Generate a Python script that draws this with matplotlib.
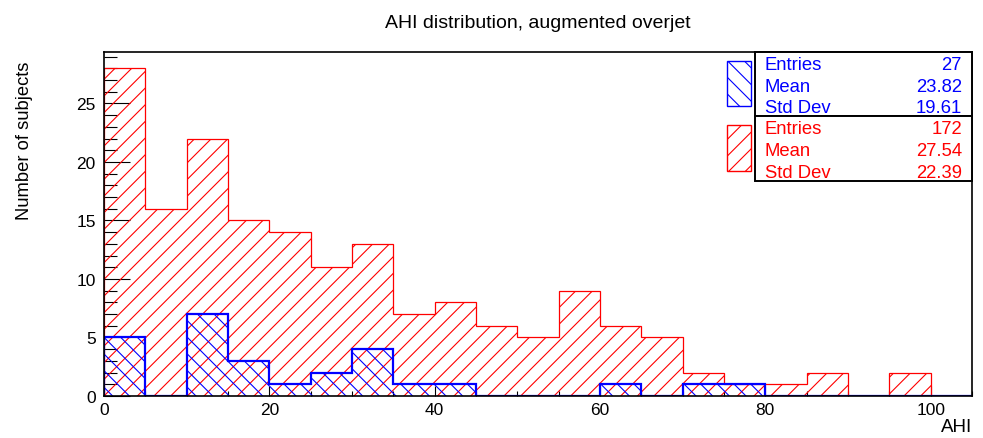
import numpy as np
import matplotlib
matplotlib.use("Agg")
import matplotlib.pyplot as plt
from matplotlib.patches import Rectangle
from matplotlib.ticker import MultipleLocator

plt.rcParams['font.family'] = ['Liberation Sans', 'DejaVu Sans']
plt.rcParams['hatch.linewidth'] = 0.8

# AHI histogram, 5-unit bins from 0 to 105
bin_edges = np.arange(0, 110, 5)
counts_all = [28, 16, 22, 15, 14, 11, 13, 7, 8, 6, 5, 9, 6, 5, 2, 1, 1, 2, 0, 2, 0]
counts_overjet = [5, 0, 7, 3, 1, 2, 4, 1, 1, 0, 0, 0, 1, 0, 1, 1, 0, 0, 0, 0, 0]

stats_overjet = [("Entries", "27"), ("Mean", "23.82"), ("Std Dev", "19.61")]
stats_all = [("Entries", "172"), ("Mean", "27.54"), ("Std Dev", "22.39")]

title = "AHI distribution, augmented overjet"
xlabel = "AHI"
ylabel = "Number of subjects"

W, H = 983, 439
fig = plt.figure(figsize=(W / 100, H / 100), dpi=100)

L, R, T, B = 104, 972, 53, 397
ax = fig.add_axes([L / W, 1 - B / H, (R - L) / W, (B - T) / H])

red = "#ff0000"
blue = "#0000ff"

ax.stairs(counts_all, bin_edges, fill=True, facecolor="none", edgecolor=red,
          hatch="//", linewidth=0.9, zorder=2)
ax.stairs(counts_overjet, bin_edges, fill=True, facecolor="none", edgecolor=blue,
          hatch="\\\\", linewidth=1.6, zorder=3)

ax.set_xlim(0, 105)
ax.set_ylim(0, max(counts_all) * 1.05)

ax.xaxis.set_major_locator(MultipleLocator(20))
ax.xaxis.set_minor_locator(MultipleLocator(5))
ax.yaxis.set_major_locator(MultipleLocator(5))
ax.yaxis.set_minor_locator(MultipleLocator(1))
ax.tick_params(axis="both", which="both", direction="in", color="black",
               width=0.8, labelsize=12.5)
ax.tick_params(axis="x", which="major", length=7.5, pad=4)
ax.tick_params(axis="x", which="minor", length=3.6)
ax.tick_params(axis="y", which="major", length=18.5, pad=6)
ax.tick_params(axis="y", which="minor", length=9.3)
ax.tick_params(top=False, right=False)

for sp in ax.spines.values():
    sp.set_linewidth(1.2)
    sp.set_zorder(5)

fig.text(538 / W, 1 - 23 / H, title, ha="center", va="center", fontsize=14)
fig.text(972 / W, 1 - 428 / H, xlabel, ha="right", va="center", fontsize=13.5)
fig.text(25 / W, 1 - 141 / H, ylabel, ha="center", va="center",
         rotation=90, fontsize=13.2)


def px_rect(x0, y0, x1, y1, **kw):
    return Rectangle((x0 / W, 1 - y1 / H), (x1 - x0) / W, (y1 - y0) / H,
                     transform=fig.transFigure, **kw)


def stats_box(y0, y1, rows, color, swatch_hatch):
    fig.add_artist(px_rect(755, y0, 972, y1, facecolor="white",
                           edgecolor="black", linewidth=1.4, zorder=10))
    fig.add_artist(px_rect(727, y0 + 9, 751, y1 - 10, facecolor="white",
                           edgecolor=color, hatch=swatch_hatch,
                           linewidth=1.0, zorder=10))
    step = (y1 - y0) / 3
    for i, (name, val) in enumerate(rows):
        yc = y0 + step * (i + 0.5) + 2
        fig.text(765 / W, 1 - yc / H, name, ha="left", va="center",
                 color=color, fontsize=13.3, zorder=11)
        fig.text(962 / W, 1 - yc / H, val, ha="right", va="center",
                 color=color, fontsize=13.3, zorder=11)


stats_box(53, 117, stats_overjet, blue, "\\\\")
stats_box(117, 182, stats_all, red, "//")

fig.savefig("out.png", dpi=100)
